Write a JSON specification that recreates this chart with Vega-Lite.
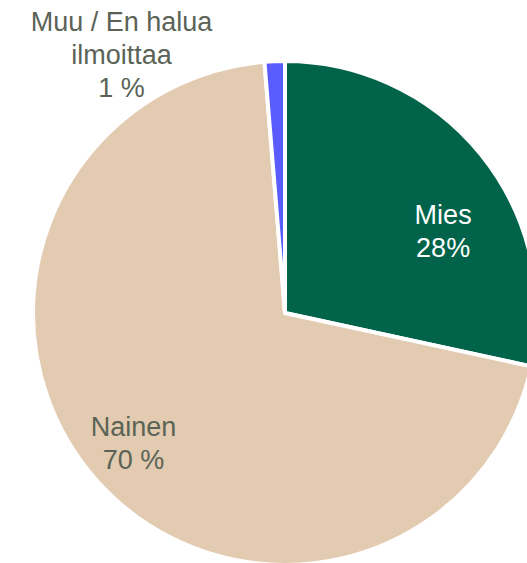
{
  "$schema": "https://vega.github.io/schema/vega-lite/v6.json",
  "width": 570,
  "height": 626,
  "autosize": "none",
  "padding": 0,
  "background": "white",
  "config": {"view": {"stroke": null}},
  "data": {"values": [
    {"ryhma": "Mies", "osuus": 28.4, "nimi": "Mies\n28%", "j": 1},
    {"ryhma": "Nainen", "osuus": 70.3, "nimi": "Nainen\n70 %", "j": 2},
    {"ryhma": "Muu / En halua ilmoittaa", "osuus": 1.3, "nimi": "Muu / En halua\nilmoittaa\n1 %", "j": 3}
  ]},
  "encoding": {
    "theta": {"field": "osuus", "type": "quantitative", "stack": true},
    "order": {"field": "j", "type": "quantitative"}
  },
  "layer": [
    {
      "mark": {"type": "arc", "outerRadius": 252, "stroke": "white", "strokeWidth": 4},
      "encoding": {
        "color": {
          "field": "ryhma",
          "type": "nominal",
          "scale": {"domain": ["Mies", "Nainen", "Muu / En halua ilmoittaa"], "range": ["#00634A", "#E2CBB0", "#5A5CFF"]},
          "legend": null
        }
      }
    },
    {
      "mark": {"type": "text", "radius": 180, "dx": 18, "dy": 16, "fill": "white", "font": "Liberation Sans", "fontSize": 27, "lineBreak": "\n", "lineHeight": 33, "align": "center", "baseline": "middle"},
      "encoding": {"text": {"condition": {"test": "datum.j == 1", "field": "nimi"}, "value": ""}}
    },
    {
      "mark": {"type": "text", "radius": 200, "dx": -1, "dy": -17, "fill": "#5B6356", "font": "Liberation Sans", "fontSize": 27, "lineBreak": "\n", "lineHeight": 33, "align": "center", "baseline": "middle"},
      "encoding": {"text": {"condition": {"test": "datum.j == 2", "field": "nimi"}, "value": ""}}
    },
    {
      "mark": {"type": "text", "radius": 258, "dx": -153, "dy": -32, "fill": "#5B6356", "font": "Liberation Sans", "fontSize": 27, "lineBreak": "\n", "lineHeight": 33, "align": "center", "baseline": "middle"},
      "encoding": {"text": {"condition": {"test": "datum.j == 3", "field": "nimi"}, "value": ""}}
    }
  ]
}
